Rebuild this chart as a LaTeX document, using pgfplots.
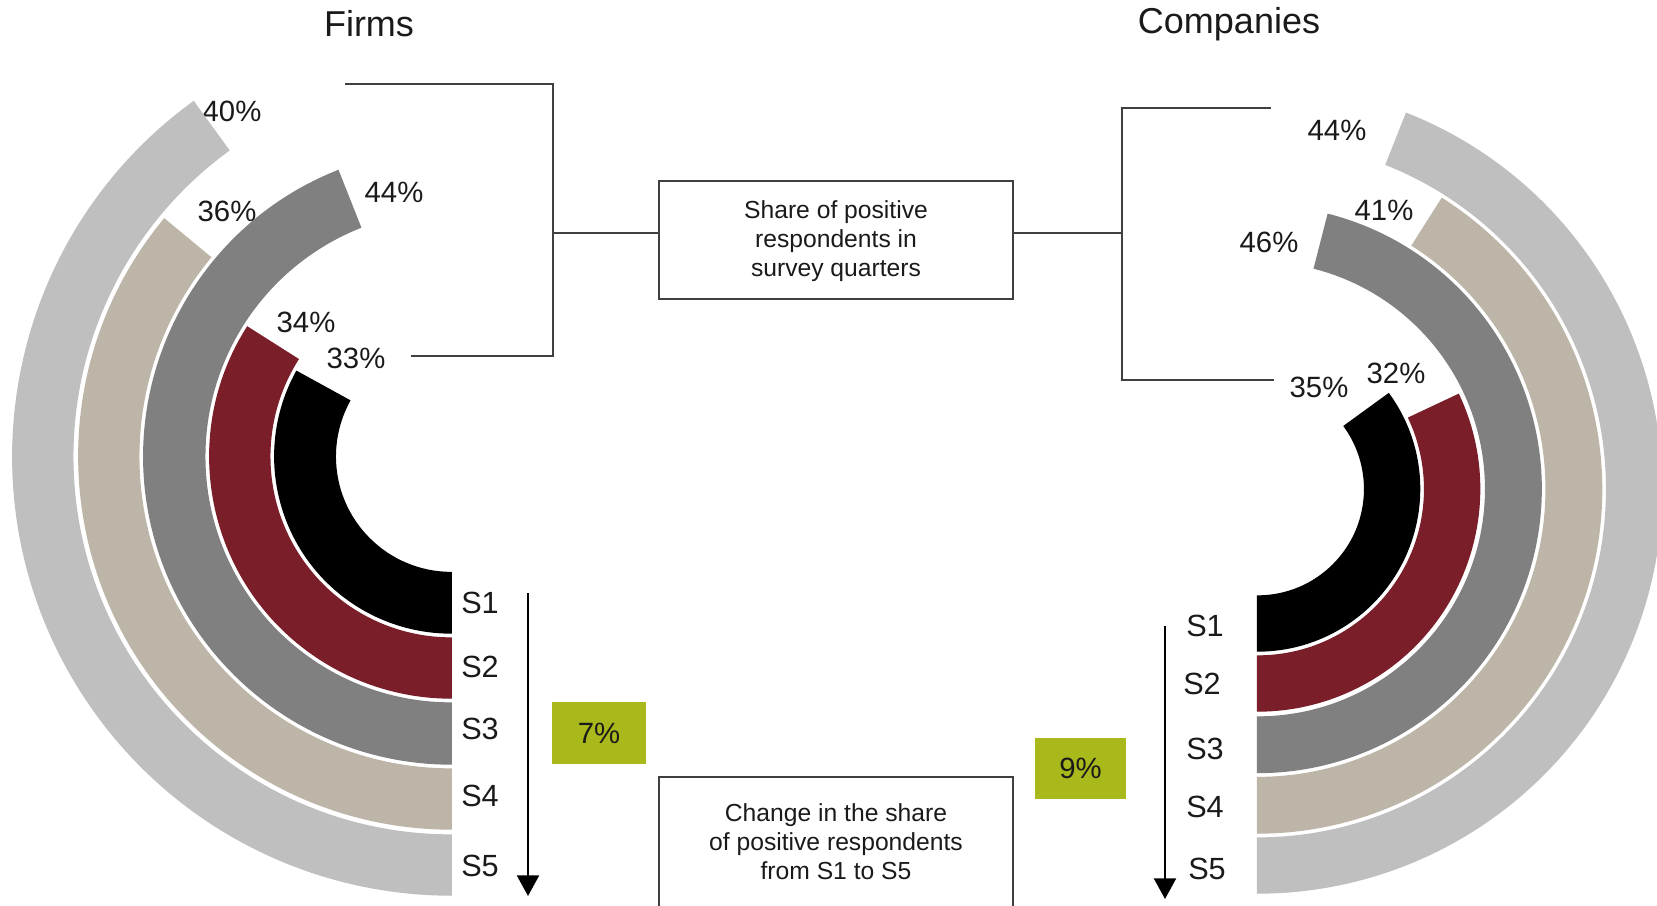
\documentclass[border=0pt]{standalone}
\usepackage{pgfplots}
\pgfplotsset{compat=1.18}
\usepackage{fontspec}
\setmainfont{Liberation Sans}
\usetikzlibrary{arrows.meta}

\definecolor{c1}{HTML}{000000}
\definecolor{c2}{HTML}{7A1E2A}
\definecolor{c3}{HTML}{808080}
\definecolor{c4}{HTML}{BDB5A8}
\definecolor{c5}{HTML}{BFBFBF}
\definecolor{lime}{HTML}{A9B81A}
\definecolor{linegray}{HTML}{404040}
\definecolor{txt}{HTML}{1A1A1A}

\pgfdeclareplotmark{empty}{}

% ring={colour}{inner radius}{outer radius}{direction}; the point meta is the share in %
\pgfplotsset{ring/.style n args={4}{scatter, only marks, mark=empty,
  point meta=explicit symbolic,
  scatter/@pre marker code/.code={%
    \pgfmathsetmacro\endang{270+(#4)*3.6*\pgfplotspointmeta}%
    \fill[#1] (270:#2*0.3pt) arc[start angle=270,end angle=\endang,radius=#2*0.3pt]
      -- (\endang:#3*0.3pt) arc[start angle=\endang,end angle=270,radius=#3*0.3pt] -- cycle;
    \pgfscope},
  scatter/@post marker code/.code={\endpgfscope}
}}

\begin{document}
\begin{tikzpicture}
\useasboundingbox (0,0) rectangle (497.1pt,271.5pt);
\begin{axis}[
  at={(0,0)}, anchor=south west,
  x=0.3pt, y=0.3pt, y dir=reverse,
  xmin=0, xmax=1657, ymin=0, ymax=905,
  hide axis, clip=false,
]
% Firms: S1..S5
\addplot[ring={c1}{116}{176.5}{-1}]   coordinates {(451.3,456.5) [33]};
\addplot[ring={c2}{181.5}{241.5}{-1}] coordinates {(451.3,456.5) [34]};
\addplot[ring={c3}{246.5}{307.5}{-1}] coordinates {(451.3,456.5) [44]};
\addplot[ring={c4}{312.5}{372.5}{-1}] coordinates {(451.3,456.5) [36]};
\addplot[ring={c5}{378.5}{438.5}{-1}] coordinates {(451.3,456.5) [40]};
% Companies: S1..S5
\addplot[ring={c1}{107}{162}{1}] coordinates {(1257.6,489) [35]};
\addplot[ring={c2}{167}{222}{1}] coordinates {(1257.6,489) [32]};
\addplot[ring={c3}{228}{283.5}{1}] coordinates {(1257.6,489) [46]};
\addplot[ring={c4}{288.5}{344}{1}] coordinates {(1257.6,489) [41]};
\addplot[ring={c5}{349}{404}{1}] coordinates {(1257.6,489) [44]};

% titles
\node[font=\fontsize{10.8}{12}\selectfont, text=txt] at (axis cs:369,24) {Firms};
\node[font=\fontsize{10.8}{12}\selectfont, text=txt] at (axis cs:1229,24) {Companies};

% value labels
\begin{scope}[every node/.style={font=\fontsize{8.8}{10}\selectfont, text=txt, inner sep=0pt}]
\node at (axis cs:232,111) {40\%};
\node at (axis cs:394,192) {44\%};
\node at (axis cs:227,211) {36\%};
\node at (axis cs:306,322) {34\%};
\node at (axis cs:356,358) {33\%};
\node at (axis cs:1337,130) {44\%};
\node at (axis cs:1384,210) {41\%};
\node at (axis cs:1269,242) {46\%};
\node at (axis cs:1319,387) {35\%};
\node at (axis cs:1396,373) {32\%};
\end{scope}
\begin{scope}[every node/.style={font=\fontsize{9.2}{10}\selectfont, text=txt, inner sep=0pt}]
\node at (axis cs:480,603) {S1};
\node at (axis cs:480,667) {S2};
\node at (axis cs:480,729) {S3};
\node at (axis cs:480,796) {S4};
\node at (axis cs:480,866) {S5};
\node at (axis cs:1205,626) {S1};
\node at (axis cs:1202,684) {S2};
\node at (axis cs:1205,749) {S3};
\node at (axis cs:1205,807) {S4};
\node at (axis cs:1207,869) {S5};
\end{scope}

% brackets
\draw[linegray, line width=0.45pt] (axis cs:345,84) -- (axis cs:553,84) -- (axis cs:553,356) -- (axis cs:411,356);
\draw[linegray, line width=0.45pt] (axis cs:553,233) -- (axis cs:659,233);
\draw[linegray, line width=0.45pt] (axis cs:1271,108) -- (axis cs:1122,108) -- (axis cs:1122,380) -- (axis cs:1274,380);
\draw[linegray, line width=0.45pt] (axis cs:1013,233) -- (axis cs:1122,233);

% boxes
\draw[linegray, line width=0.45pt] (axis cs:659,181) rectangle (axis cs:1013,299);
\node[align=center, font=\fontsize{7.4}{8.7}\selectfont, text=txt] at (axis cs:836,241) {Share of positive\\respondents in\\survey quarters};
\draw[linegray, line width=0.45pt] (axis cs:659,777) rectangle (axis cs:1013,920);
\node[align=center, font=\fontsize{7.4}{8.7}\selectfont, text=txt] at (axis cs:836,842) {Change in the share\\of positive respondents\\from S1 to S5};

% arrows
\draw[black, line width=0.65pt, -{Triangle[width=6.6pt,length=6.2pt]}] (axis cs:528,593) -- (axis cs:528,896);
\draw[black, line width=0.65pt, -{Triangle[width=6.6pt,length=6.2pt]}] (axis cs:1165,626) -- (axis cs:1165,899);

% change boxes
\fill[lime] (axis cs:552,702) rectangle (axis cs:646,764);
\node[font=\fontsize{8.8}{10}\selectfont, text=txt, inner sep=0pt] at (axis cs:599,733) {7\%};
\fill[lime] (axis cs:1035,738) rectangle (axis cs:1126,799);
\node[font=\fontsize{8.8}{10}\selectfont, text=txt, inner sep=0pt] at (axis cs:1080.5,768.5) {9\%};
\end{axis}
\end{tikzpicture}
\end{document}
